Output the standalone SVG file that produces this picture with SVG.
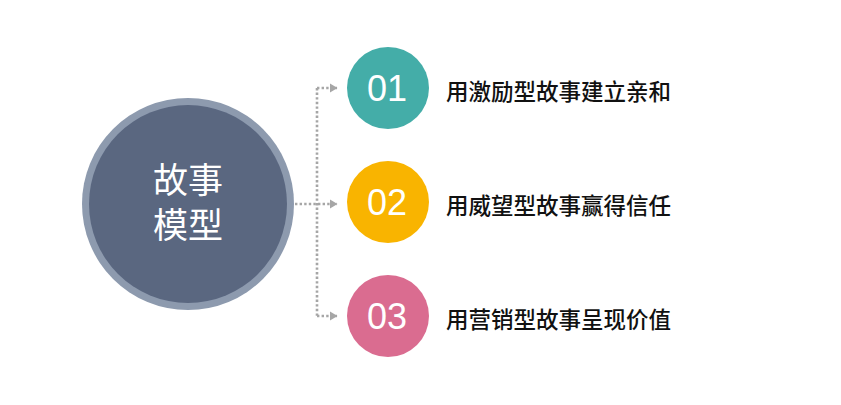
<svg xmlns="http://www.w3.org/2000/svg" width="841" height="405" viewBox="0 0 841 405">
<style>
.conn{fill:none;stroke:#A6A6A6;stroke-width:2.6;stroke-dasharray:2.4 2.2;}
.num{font-family:"Liberation Sans",Arial,sans-serif;font-size:36px;fill:#FFFFFF;text-anchor:middle;}
.lbl{font-family:"Noto Sans CJK SC","Noto Sans",sans-serif;font-size:22.5px;font-weight:500;fill:#111111;}
.hub{font-family:"Noto Sans CJK SC","Noto Sans",sans-serif;font-size:35px;fill:#FFFFFF;text-anchor:middle;}
</style>
<defs>
<marker id="arr" markerWidth="9" markerHeight="10" refX="7" refY="5" orient="auto" markerUnits="userSpaceOnUse">
<path d="M0,0.5 L7.5,5 L0,9.5 Z" fill="#A6A6A6"/>
</marker>
</defs>
<rect width="841" height="405" fill="#FFFFFF"/>
<g id="connectors">
<path class="conn" d="M295,204 L337,204" marker-end="url(#arr)"/>
<path class="conn" d="M317,88 L317,316"/>
<path class="conn" d="M317,88 L337,88" marker-end="url(#arr)"/>
<path class="conn" d="M317,316 L337,316" marker-end="url(#arr)"/>
</g>
<g id="hub">
<circle cx="188" cy="204" r="106" fill="#8D9AAE"/>
<circle cx="188" cy="204" r="99" fill="#5A6780"/>
<text class="hub" x="188" y="193">故事</text>
<text class="hub" x="188" y="238">模型</text>
</g>
<g id="node1">
<circle cx="388" cy="88" r="41" fill="#44ADA8"/>
<text class="num" x="387" y="101">01</text>
<text class="lbl" x="446" y="100">用激励型故事建立亲和</text>
</g>
<g id="node2">
<circle cx="388" cy="202" r="41" fill="#F9B400"/>
<text class="num" x="387" y="215">02</text>
<text class="lbl" x="446" y="214">用威望型故事赢得信任</text>
</g>
<g id="node3">
<circle cx="388" cy="316" r="41" fill="#DA6C90"/>
<text class="num" x="387" y="329">03</text>
<text class="lbl" x="446" y="328">用营销型故事呈现价值</text>
</g>
</svg>
